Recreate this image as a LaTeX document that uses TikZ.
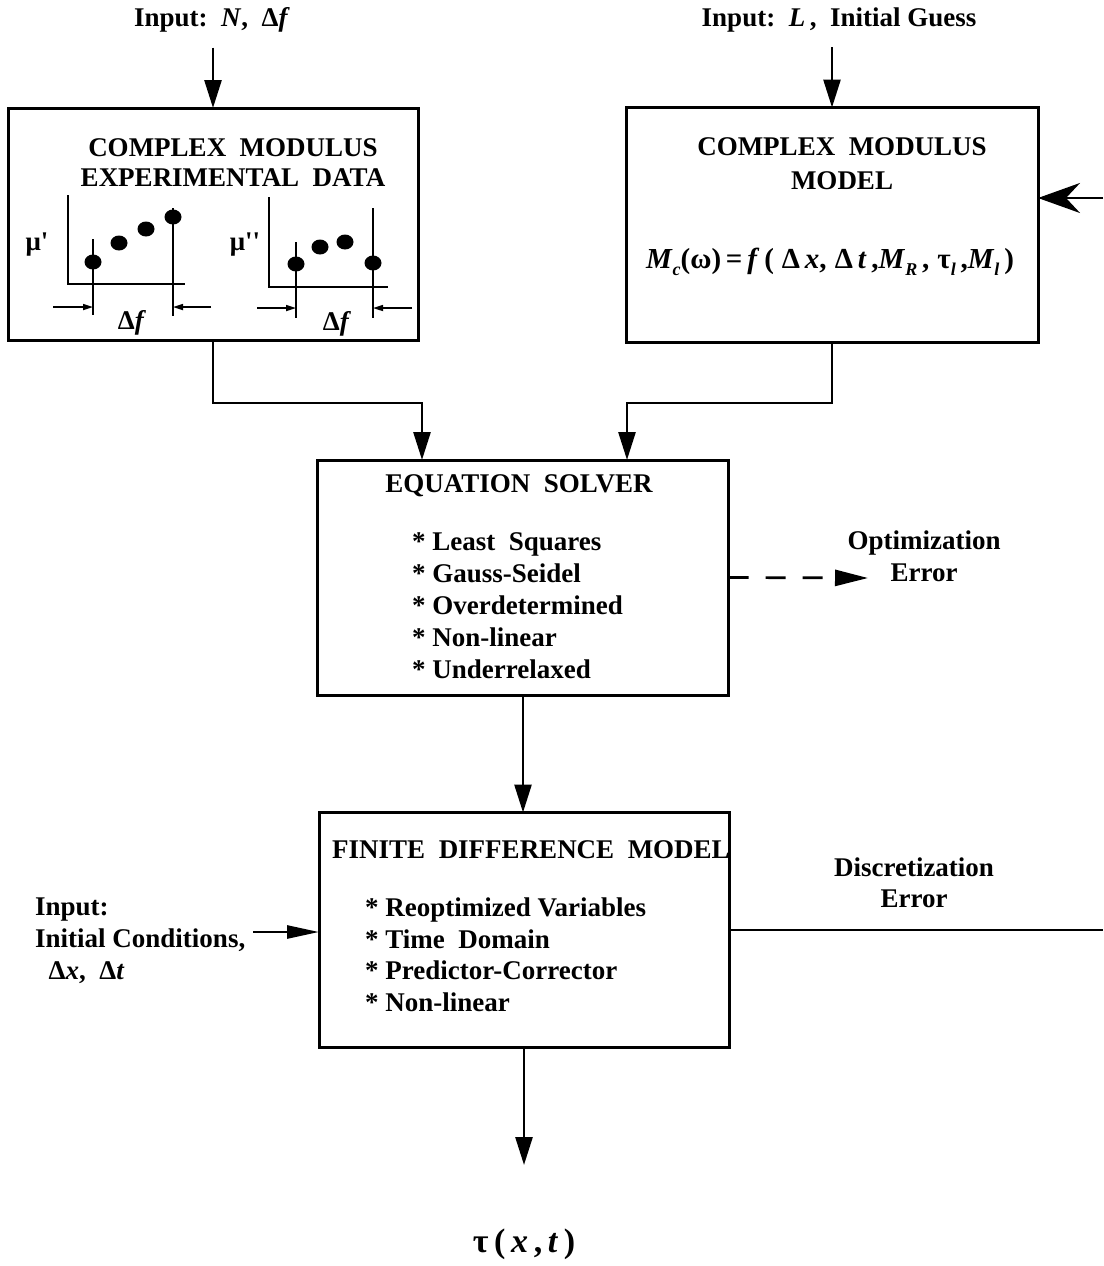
\documentclass[tikz,border=0pt]{standalone}
\usepackage{fontspec}
\setmainfont{Liberation Serif}
\usetikzlibrary{arrows.meta}
\newcommand\bi[1]{\textbf{\textit{#1}}}
\newcommand\lowsub[1]{\raisebox{-7pt}{\fontsize{18}{18}\selectfont\bi{#1}}}
\begin{document}
\begin{tikzpicture}[x=1pt,y=-1pt,
  every node/.style={font=\bfseries\fontsize{27}{32}\selectfont, inner sep=0pt},
  box/.style={draw, line width=3pt, outer sep=0pt, inner sep=0pt},
  conn/.style={line width=2.7pt},
  arr/.style={conn, -{Triangle[length=28pt,width=17pt]}},
  sidearr/.style={conn, -{Triangle[length=32pt,width=13pt]}},
  dasharr/.style={conn, dash pattern=on 20pt off 17pt, -{Triangle[length=33pt,width=16pt]}},
  fbarr/.style={conn, -{Stealth[length=42pt,width=30pt,inset=14pt]}},
  axisline/.style={line width=2.8pt},
  tick/.style={line width=1.7pt},
  dimarr/.style={line width=1.6pt, -{Triangle[length=10pt,width=6pt]}},
  dot/.style={fill=black}]
\useasboundingbox (0,0) rectangle (1103,1266);

% blocks
\node[box, minimum width=410pt, minimum height=232pt] (dat) at (213,224) {};
\node[box, minimum width=412pt, minimum height=235pt] (mod) at (832,225) {};
\node[box, minimum width=411pt, minimum height=235pt] (sol) at (523,577.5) {};
\node[box, minimum width=410pt, minimum height=235pt] (fd) at (524,930) {};

% block contents
\node[align=center, font=\bfseries\fontsize{27}{30}\selectfont] (datT) at (233,163)
  {COMPLEX\ \ MODULUS\\EXPERIMENTAL\ \ DATA};
\node[align=center, font=\bfseries\fontsize{27}{34}\selectfont] (modT) at (842,164)
  {COMPLEX\ \ MODULUS\\MODEL};
\node[font=\bfseries\fontsize{29}{32}\selectfont] (modF) at (830,262)
  {\bi{M}\lowsub{c}(ω)\,=\,\bi{f}\,(\;Δ\,\bi{x},\;Δ\,\bi{t}\,,\bi{M}\lowsub{R}\,,\;τ\lowsub{l}\,,\bi{M}\lowsub{l}\,)};
\node (solT) at (519,486) {EQUATION\ \ SOLVER};
\node[align=left, anchor=west] (solL) at (412,606)
  {* Least\ \ Squares\\* Gauss-Seidel\\* Overdetermined\\* Non-linear\\* Underrelaxed};
\node (fdT) at (531,850) {FINITE\ \ DIFFERENCE\ \ MODEL};
\node[align=left, anchor=west, font=\bfseries\fontsize{27}{31.5}\selectfont] (fdL) at (365,955)
  {* Reoptimized Variables\\* Time\ \ Domain\\* Predictor-Corrector\\* Non-linear};

% plot of the real part
\draw[axisline] (68,195) -- (68,284) -- (185,284);
\draw[tick] (93,239) -- (93,315);
\draw[tick] (173,208) -- (173,316);
\fill[dot] (93,262) ellipse (8.5pt and 7.5pt);
\fill[dot] (119,243) ellipse (8.5pt and 7.5pt);
\fill[dot] (146,229) ellipse (8.5pt and 7.5pt);
\fill[dot] (173,217) ellipse (8.5pt and 7.5pt);
\draw[dimarr] (53,307) -- (93,307);
\draw[dimarr] (211,307) -- (173,307);
\node (dfa) at (132,323) {Δ\bi{f}};
\node (mua) at (37,245) {μ\textquotesingle};

% plot of the imaginary part
\draw[axisline] (269,197) -- (269,287) -- (388,287);
\draw[tick] (296,242) -- (296,318);
\draw[tick] (373,208) -- (373,318);
\fill[dot] (296,264) ellipse (8.5pt and 7.5pt);
\fill[dot] (320,247) ellipse (8.5pt and 7.5pt);
\fill[dot] (345,242) ellipse (8.5pt and 7.5pt);
\fill[dot] (373,263) ellipse (8.5pt and 7.5pt);
\draw[dimarr] (257,308) -- (296,308);
\draw[dimarr] (412,308) -- (373,308);
\node (dfb) at (337,324) {Δ\bi{f}};
\node (mub) at (245,245) {μ\textquotesingle\textquotesingle};

% inputs
\node (inN) at (212,20) {Input:\ \ \bi{N},\ \ Δ\bi{f}};
\node (inL) at (839,20) {Input:\ \ \bi{L}\,,\ \ Initial Guess};
\node[align=left, anchor=west] (inC) at (35,941)
  {Input:\\Initial Conditions,\\\ \ Δ\bi{x},\ \ Δ\bi{t}};
\draw[arr, shorten <=15pt] (inN.south -| dat.north) -- (dat.north);
\draw[arr, shorten <=15pt] (inL.south -| mod.north) -- (mod.north);
\draw[sidearr] ([xshift=8pt,yshift=9pt]inC.east) -- ([yshift=9pt]inC.east -| fd.west);

% flow into the solver
\coordinate (mid) at (0,403);
\coordinate (inl) at (422,0);
\coordinate (inr) at (627,0);
\draw[arr] (dat.south) -- (dat.south |- mid) -| (sol.north -| inl);
\draw[arr] (mod.south) -- (mod.south |- mid) -| (sol.north -| inr);
\draw[arr] (sol.south) -- (sol.south |- fd.north);

% output
\coordinate (outE) at (524,1165);
\draw[arr] (fd.south) -- (outE);
\node[font=\bfseries\fontsize{34}{38}\selectfont] (tau) at (524,1244) {τ\,(\,\bi{x}\,,\,\bi{t}\,)};

% errors
\node[align=center] (opt) at (924,556) {Optimization\\Error};
\coordinate (optE) at (868,578);
\draw[dasharr] (sol.east) -- (optE);
\node[align=center, font=\bfseries\fontsize{27}{31}\selectfont] (dis) at (914,883) {Discretization\\Error};
\coordinate (edgeR) at (1103,0);
\draw[conn] (fd.east) -- (fd.east -| edgeR);
\coordinate (fbk) at (1103,198);
\draw[fbarr] (fbk) -- (fbk -| mod.east);
\end{tikzpicture}
\end{document}
